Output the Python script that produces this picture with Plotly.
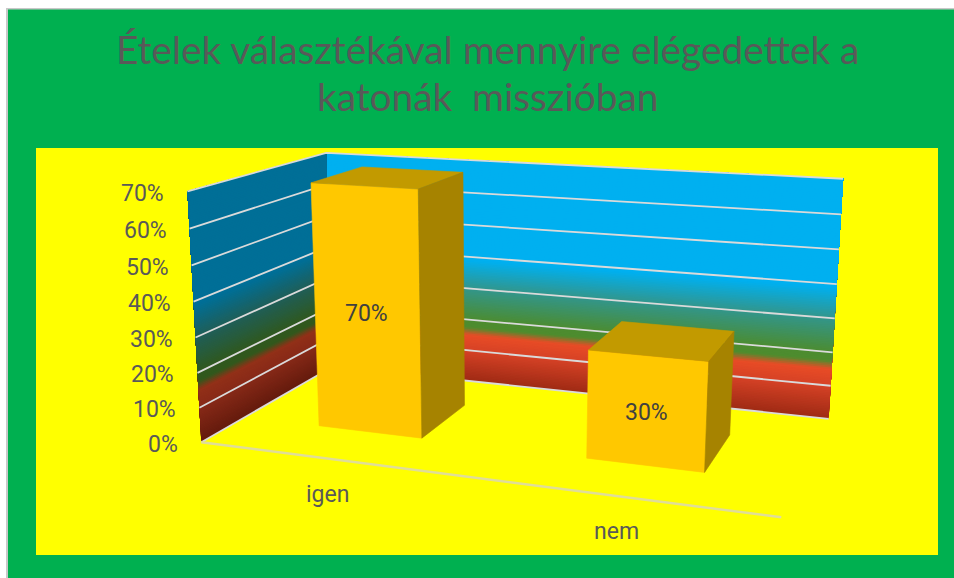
import numpy as np
import plotly.graph_objects as go

# Chart content
title_lines = ["Ételek választékával mennyire elégedettek a", "katonák  misszióban"]
categories = ["igen", "nem"]
values = [70, 30]
value_ticks = [0, 10, 20, 30, 40, 50, 60, 70]
axis_max = 70

# Plot box corners (category, depth, value fraction) and their page positions
box_corners = [
    ((0, 0, 0), (202, 442)),
    ((0, 1, 0), (332, 367)),
    ((1, 1, 0), (829, 418)),
    ((1, 0, 0), (781, 518)),
    ((0, 0, 1), (187, 191)),
    ((0, 1, 1), (326.7, 153)),
    ((1, 1, 1), (843, 179)),
]

# Wall gradient: value position and RGB colour of the back wall
wall_stops = [
    (0, (158, 42, 20)),
    (10, (214, 66, 38)),
    (15, (232, 76, 38)),
    (17.5, (78, 140, 46)),
    (20, (76, 140, 48)),
    (30, (50, 150, 140)),
    (39, (0, 176, 240)),
    (70, (0, 176, 240)),
]
side_wall_shade = 0.63
bar_half_width = 0.1
bar_depth = (0.30, 0.70)

GRID = "#DADADA"
TEXT = "#595959"
TITLE_FONT = "Lato"
LABEL_FONT = "Roboto"


def fit_camera(pairs):
    rows = []
    for (a, b, c), (x, y) in pairs:
        rows.append([a, b, c, 1, 0, 0, 0, 0, -x * a, -x * b, -x * c, -x])
        rows.append([0, 0, 0, 0, a, b, c, 1, -y * a, -y * b, -y * c, -y])
    return np.linalg.svd(np.array(rows, float))[2][-1].reshape(3, 4)


CAMERA = fit_camera(box_corners)


def project(u, v, val):
    p = CAMERA @ np.array([u, v, val / axis_max, 1.0])
    return p[0] / p[2], p[1] / p[2]


def polygon(points, color, edge=0.6):
    xs, ys = zip(*[project(*p) for p in points])
    return go.Scatter(
        x=list(xs) + [xs[0]], y=list(ys) + [ys[0]], mode="lines", fill="toself",
        fillcolor=color, line=dict(color=color, width=edge), hoverinfo="skip", showlegend=False,
    )


def polyline(points, color=GRID, width=1.8):
    xs, ys = zip(*[project(*p) for p in points])
    return go.Scatter(
        x=xs, y=ys, mode="lines", line=dict(color=color, width=width),
        hoverinfo="skip", showlegend=False,
    )


def wall_color(val, shade=1.0):
    pos = [s[0] for s in wall_stops]
    rgb = [np.interp(val, pos, [s[1][i] for s in wall_stops]) * shade for i in range(3)]
    return "rgb(%d,%d,%d)" % tuple(round(c) for c in rgb)


fig = go.Figure()

# Gradient walls: each band reaches the wall top and the next one paints over it,
# which keeps the steps free of hairline seams
levels = np.arange(0, axis_max, 0.5)
for lo in levels:
    fig.add_trace(polygon([(0, 1, lo), (1, 1, lo), (1, 1, axis_max), (0, 1, axis_max)],
                          wall_color(lo + 0.25), edge=0))
for lo in levels:
    fig.add_trace(polygon([(0, 0, lo), (0, 1, lo), (0, 1, axis_max), (0, 0, axis_max)],
                          wall_color(lo + 0.25, side_wall_shade), edge=0))

# Gridlines running along both walls
for t in value_ticks:
    fig.add_trace(polyline([(0, 0, t), (0, 1, t), (1, 1, t)]))
fig.add_trace(polyline([(0, 0, 0), (1, 0, 0)], color="#E0DD98", width=2.5))

# Bars
n = len(categories)
v0, v1 = bar_depth
for i, val in enumerate(values):
    c = (i + 0.5) / n
    a, b = c - bar_half_width, c + bar_half_width
    fig.add_trace(polygon([(a, v0, 0), (b, v0, 0), (b, v0, val), (a, v0, val)], "#FFC800"))
    fig.add_trace(polygon([(a, v0, val), (b, v0, val), (b, v1, val), (a, v1, val)], "#C29A00"))
    fig.add_trace(polygon([(b, v0, 0), (b, v1, 0), (b, v1, val), (b, v0, val)], "#A68300"))

annotations = []


def label(x, y, text, size, color=TEXT, anchor="center", family=LABEL_FONT):
    annotations.append(dict(
        x=x, y=y, xref="x", yref="y", text=text, showarrow=False, xanchor=anchor, yanchor="middle",
        font=dict(family=family, size=size, color=color),
    ))


# Title lines sit slightly further apart so their text boxes stay clear of each other
label(487, 49, title_lines[0], 38.8, family=TITLE_FONT)
label(487, 95.5, title_lines[1], 38.8, family=TITLE_FONT)
for t in value_ticks:
    x, y = project(0, 0, t)
    label(x - 21, y + 2, f"{t}%", 23, anchor="right")
for i, (cat, val) in enumerate(zip(categories, values)):
    c = (i + 0.5) / n
    x, y = project(c, 0, 0)
    label(x - 3.5, y + 35.5, cat, 23)
    x, y = project(c, v0, val / 2)
    label(x, y + 1.5, f"{val}%", 23, color="#404040")

fig.update_layout(
    width=954, height=578, margin=dict(l=0, r=0, t=0, b=0, autoexpand=False),
    paper_bgcolor="white", plot_bgcolor="white", showlegend=False, annotations=annotations,
    xaxis=dict(range=[0, 954], visible=False, fixedrange=True),
    yaxis=dict(range=[578, 0], visible=False, fixedrange=True),
    shapes=[
        dict(type="rect", x0=6, x1=954, y0=8, y1=578, fillcolor="#C8C8C8", line_width=0, layer="below"),
        dict(type="rect", x0=8, x1=954, y0=9.5, y1=578, fillcolor="#00B050", line_width=0, layer="below"),
        dict(type="rect", x0=36, x1=938, y0=148, y1=555, fillcolor="#FFFF00", line_width=0, layer="below"),
    ],
)
fig.write_html("out.html", config={"displayModeBar": False})
